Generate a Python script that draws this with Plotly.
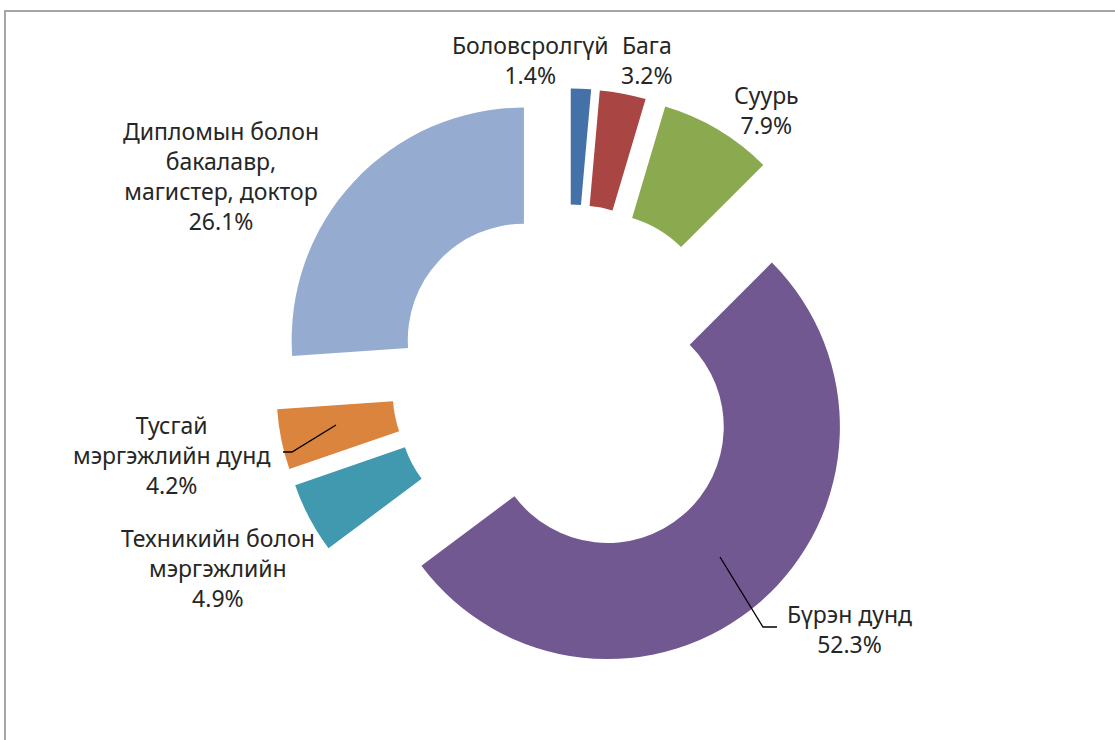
import plotly.graph_objects as go

# ---- data ----
categories = ["Боловсролгүй", "Бага", "Суурь", "Бүрэн дунд",
              "Техникийн болон<br>мэргэжлийн", "Тусгай<br>мэргэжлийн дунд",
              "Дипломын болон<br>бакалавр,<br>магистер, доктор"]
shares = [1.4, 3.2, 7.9, 52.3, 4.9, 4.2, 26.1]
colors = ["#4472A8", "#A94543", "#8BA94F", "#725890", "#4199AF", "#DA843D", "#95ABD0"]

W, H = 1115, 740


def px(x, y):
    return x / W, 1 - y / H


# label anchor positions (pixels, layout only)
label_pos = [(530, 60), (647, 60), (766, 110), (849, 629), (218, 568), (171, 455), (221, 176)]

fig = go.Figure()
fig.add_trace(go.Pie(
    values=shares,
    labels=[c.replace("<br>", " ") for c in categories],
    marker=dict(colors=colors, line=dict(width=0)),
    hole=0.5,
    pull=[0.26] * len(shares),
    sort=False,
    direction="clockwise",
    rotation=0,
    textinfo="none",
    hoverinfo="label+percent",
    showlegend=False,
    domain=dict(x=[0.247, 0.772], y=[0.0885, 0.8815]),
))

annotations = []
for cat, val, (lx, ly) in zip(categories, shares, label_pos):
    ax, ay = px(lx, ly)
    annotations.append(dict(
        x=ax, y=ay, xref="paper", yref="paper",
        text=f"{cat}<br>{val:.1f}%",
        showarrow=False, xanchor="center", yanchor="middle",
        align="center",
        font=dict(family="Noto Sans", size=23, color="#262626"),
    ))

shapes = []
# chart frame (extends beyond right/bottom edge)
x0, y0 = px(5, 11)
x1, y1 = px(1125, 760)
shapes.append(dict(type="rect", xref="paper", yref="paper", x0=x0, y0=y1, x1=x1, y1=y0,
                   line=dict(color="#A6A6A6", width=2), fillcolor="rgba(0,0,0,0)"))


def leader(points):
    pts = [px(a, b) for a, b in points]
    path = "M " + " L ".join(f"{a},{b}" for a, b in pts)
    return dict(type="path", xref="paper", yref="paper", path=path,
                line=dict(color="#000000", width=1.3))


shapes.append(leader([(720, 557), (763, 627), (777, 627)]))
shapes.append(leader([(336, 425), (292, 452), (283, 452)]))

fig.update_layout(
    width=W, height=H, autosize=False,
    margin=dict(l=0, r=0, t=0, b=0),
    paper_bgcolor="white", plot_bgcolor="white",
    annotations=annotations, shapes=shapes,
)

fig.write_html("out.html", config={"displayModeBar": False},
               post_script="document.body.style.margin='0';document.body.style.padding='0';")
